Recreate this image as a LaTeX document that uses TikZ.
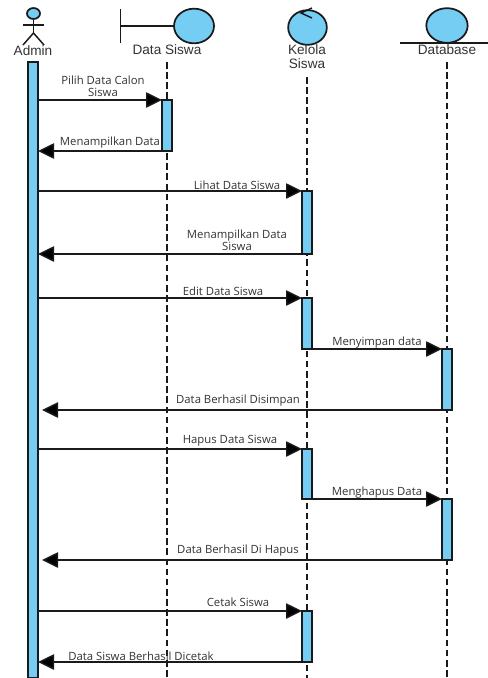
\documentclass[tikz,border=0pt]{standalone}
\usepackage{fontspec}
\setmainfont{Open Sans}
\newfontfamily\headfont{Liberation Sans}
\usetikzlibrary{arrows.meta,shapes.geometric}
\definecolor{skyfill}{HTML}{76CDF4}
\definecolor{ink}{HTML}{1A1A1A}
\definecolor{labelink}{HTML}{333333}
\tikzset{
  x=0.75pt,y=-0.75pt,
  bar/.style={draw=ink,line width=1.4pt,fill=skyfill,inner sep=0pt,outer sep=0pt,minimum width=7.5pt,anchor=north},
  orb/.style={draw=ink,line width=1.3pt,fill=skyfill,ellipse,inner sep=0pt,outer sep=0pt},
  plain/.style={draw=ink,line width=1.1pt},
  life/.style={draw=ink,line width=1.1pt,dash pattern=on 5pt off 2.6pt},
  msg/.style={draw=ink,line width=1.1pt,-{Triangle[length=12pt,width=11.5pt,fill=black]}},
  lab/.style={font=\fontsize{8.5pt}{9pt}\selectfont,text=labelink,inner sep=0pt,align=center},
  head/.style={font=\headfont\fontsize{10.2pt}{10.5pt}\selectfont,text=labelink,inner sep=0pt,align=center},
}
\begin{document}
\begin{tikzpicture}
\useasboundingbox (0,0) rectangle (488,678);
% lifelines
\coordinate (ds0) at (167,62);  \coordinate (ds1) at (167,678);
\coordinate (ks0) at (307,77);  \coordinate (ks1) at (307,678);
\coordinate (db0) at (447,62);  \coordinate (db1) at (447,678);
\draw[life] (ds0) -- (ds1);
\draw[life] (ks0) -- (ks1);
\draw[life] (db0) -- (db1);
% actor
\node[orb,minimum width=9.8pt,minimum height=8.2pt] (ahead) at (33.5,13.5) {};
\coordinate (hip) at (33.5,33);
\coordinate (armL) at (23,25); \coordinate (armR) at (44,25);
\coordinate (legL) at (23,45); \coordinate (legR) at (44,45);
\draw[plain] (ahead.south) -- (hip);
\draw[plain] (armL) -- (armR);
\draw[plain] (legL) -- (hip) -- (legR);
\node[head] (tadmin) at (33,51) {Admin};
% boundary
\node[orb,minimum width=30pt,minimum height=26pt] (bcirc) at (194,26) {};
\coordinate (bt) at (120.5,9); \coordinate (bb) at (120.5,43); \coordinate (bm) at (120.5,26);
\draw[plain] (bt) -- (bb);
\draw[plain] (bm) -- (bcirc.west);
\node[head] (tds) at (167,50) {Data Siswa};
% control
\node[orb,minimum width=29pt,minimum height=26pt] (ccirc) at (307.5,27.5) {};
\coordinate (c1) at (312,8); \coordinate (c2) at (301,13); \coordinate (c3) at (312,18);
\draw[plain] (c1) -- (c2) -- (c3);
\node[head] (tks) at (307,57) {Kelola\\Siswa};
% entity
\node[orb,minimum width=31pt,minimum height=26pt] (ecirc) at (447,25.5) {};
\coordinate (eL) at (400,43); \coordinate (eR) at (488,43);
\draw[plain] (eL) -- (eR);
\node[head] (tdb) at (447,50) {Database};
% activation bars
\node[bar,minimum height=462pt] (admin) at (33,62) {};
\node[bar,minimum height=38.25pt] (d1) at (167,100) {};
\node[bar,minimum height=47.25pt] (k1) at (307,191) {};
\node[bar,minimum height=38.25pt] (k2) at (307,298) {};
\node[bar,minimum height=45.75pt] (b1) at (447,349) {};
\node[bar,minimum height=37.5pt] (k3) at (307,449) {};
\node[bar,minimum height=45.75pt] (b2) at (447,499) {};
\node[bar,minimum height=38.25pt] (k4) at (307,611) {};
% messages
\draw[msg] (admin.east |- d1.north) -- (d1.north west);
\draw[msg] (d1.south west) -- (admin.east |- d1.south);
\draw[msg] (admin.east |- k1.north) -- (k1.north west);
\draw[msg] (k1.south west) -- (admin.east |- k1.south);
\draw[msg] (admin.east |- k2.north) -- (k2.north west);
\draw[msg] (k2.south east) -- (b1.north west);
\draw[msg] (b1.south west) -- ([xshift=3pt]admin.east |- b1.south);
\draw[msg] (admin.east |- k3.north) -- (k3.north west);
\draw[msg] (k3.south east) -- (b2.north west);
\draw[msg] (b2.south west) -- ([xshift=3pt]admin.east |- b2.south);
\draw[msg] (admin.east |- k4.north) -- (k4.north west);
\draw[msg] (k4.south west) -- (admin.east |- k4.south);
% labels
\node[lab] (m1) at (103,86) {Pilih Data Calon\\Siswa};
\node[lab] (m2) at (110,143) {Menampilkan Data};
\node[lab] (m3) at (237,185) {Lihat Data Siswa};
\node[lab] (m4) at (237,240) {Menampilkan Data\\Siswa};
\node[lab] (m5) at (223,291) {Edit Data Siswa};
\node[lab] (m6) at (377,343) {Menyimpan data};
\node[lab] (m7) at (238,401) {Data Berhasil Disimpan};
\node[lab] (m8) at (230,441) {Hapus Data Siswa};
\node[lab] (m9) at (377,493) {Menghapus Data};
\node[lab] (m10) at (238,551) {Data Berhasil Di Hapus};
\node[lab] (m11) at (238,602) {Cetak Siswa};
\node[lab] (m12) at (141,656) {Data Siswa Berhasil Dicetak};
\end{tikzpicture}
\end{document}
